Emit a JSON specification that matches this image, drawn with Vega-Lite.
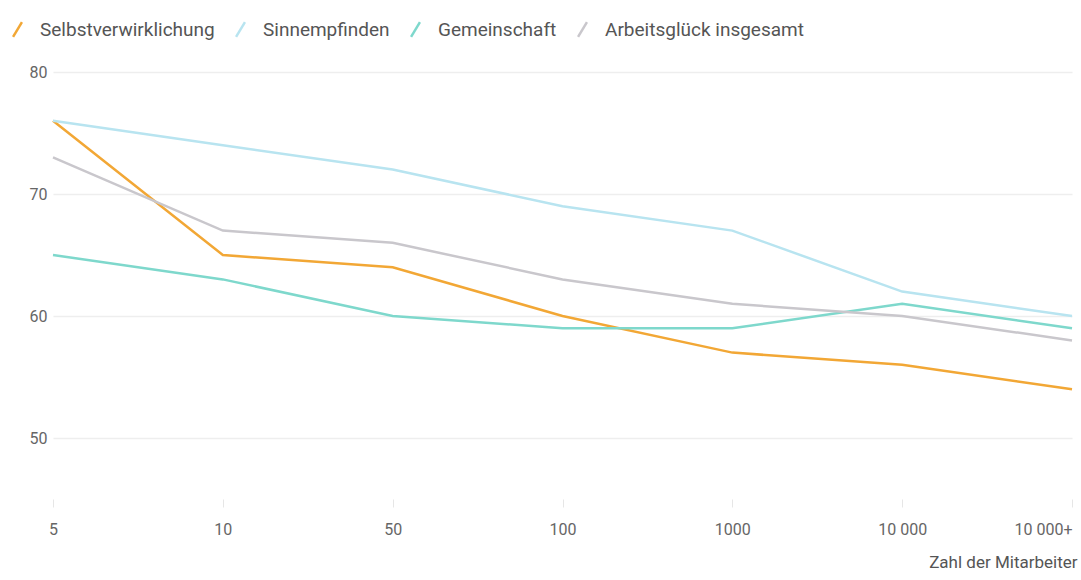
{
  "$schema": "https://vega.github.io/schema/vega-lite/v6.json",
  "width": 1019,
  "height": 427,
  "autosize": {"type": "none"},
  "padding": {"left": 53, "top": 72, "right": 9, "bottom": 81},
  "background": "white",
  "config": {
    "font": "Roboto",
    "view": {"stroke": null}
  },
  "data": {
    "values": [
      {"size": "5", "series": "Selbstverwirklichung", "value": 76},
      {"size": "10", "series": "Selbstverwirklichung", "value": 65},
      {"size": "50", "series": "Selbstverwirklichung", "value": 64},
      {"size": "100", "series": "Selbstverwirklichung", "value": 60},
      {"size": "1000", "series": "Selbstverwirklichung", "value": 57},
      {"size": "10 000", "series": "Selbstverwirklichung", "value": 56},
      {"size": "10 000+", "series": "Selbstverwirklichung", "value": 54},
      {"size": "5", "series": "Sinnempfinden", "value": 76},
      {"size": "10", "series": "Sinnempfinden", "value": 74},
      {"size": "50", "series": "Sinnempfinden", "value": 72},
      {"size": "100", "series": "Sinnempfinden", "value": 69},
      {"size": "1000", "series": "Sinnempfinden", "value": 67},
      {"size": "10 000", "series": "Sinnempfinden", "value": 62},
      {"size": "10 000+", "series": "Sinnempfinden", "value": 60},
      {"size": "5", "series": "Gemeinschaft", "value": 65},
      {"size": "10", "series": "Gemeinschaft", "value": 63},
      {"size": "50", "series": "Gemeinschaft", "value": 60},
      {"size": "100", "series": "Gemeinschaft", "value": 59},
      {"size": "1000", "series": "Gemeinschaft", "value": 59},
      {"size": "10 000", "series": "Gemeinschaft", "value": 61},
      {"size": "10 000+", "series": "Gemeinschaft", "value": 59},
      {"size": "5", "series": "Arbeitsglück insgesamt", "value": 73},
      {"size": "10", "series": "Arbeitsglück insgesamt", "value": 67},
      {"size": "50", "series": "Arbeitsglück insgesamt", "value": 66},
      {"size": "100", "series": "Arbeitsglück insgesamt", "value": 63},
      {"size": "1000", "series": "Arbeitsglück insgesamt", "value": 61},
      {"size": "10 000", "series": "Arbeitsglück insgesamt", "value": 60},
      {"size": "10 000+", "series": "Arbeitsglück insgesamt", "value": 58}
    ]
  },
  "mark": {"type": "line", "strokeWidth": 2.5},
  "encoding": {
    "x": {
      "field": "size",
      "type": "ordinal",
      "sort": ["5", "10", "50", "100", "1000", "10 000", "10 000+"],
      "scale": {"type": "point", "padding": 0},
      "axis": {
        "title": "Zahl der Mitarbeiter",
        "titleAnchor": "end",
        "titleFontSize": 17,
        "titleFontWeight": "normal",
        "titleColor": "#555",
        "titlePadding": 17,
        "titleX": 1024,
        "labelAngle": 0,
        "labelFontSize": 16,
        "labelColor": "#666",
        "labelPadding": 14,
        "labelAlign": {"condition": {"test": "datum.label == '10 000+'", "value": "right"}, "value": "center"},
        "labelDx": {"condition": {"test": "datum.label == '10 000+'", "value": 8}, "value": 0},
        "domain": false,
        "ticks": true,
        "tickColor": "#e6e6e6",
        "tickSize": 8,
        "grid": false
      }
    },
    "y": {
      "field": "value",
      "type": "quantitative",
      "scale": {"domain": [45, 80], "nice": false, "zero": false},
      "axis": {
        "title": null,
        "values": [50, 60, 70, 80],
        "labelFontSize": 16,
        "labelColor": "#666",
        "labelPadding": 6,
        "domain": false,
        "ticks": false,
        "grid": true,
        "gridColor": "#eeeeee",
        "gridWidth": 1.5
      }
    },
    "color": {
      "field": "series",
      "type": "nominal",
      "sort": ["Selbstverwirklichung", "Sinnempfinden", "Gemeinschaft", "Arbeitsglück insgesamt"],
      "scale": {
        "domain": ["Selbstverwirklichung", "Sinnempfinden", "Gemeinschaft", "Arbeitsglück insgesamt"],
        "range": ["#f2a735", "#b8e4f0", "#7ed8cc", "#c9c7cc"]
      },
      "legend": {
        "title": null,
        "orient": "none",
        "direction": "horizontal",
        "legendX": -45,
        "legendY": -52,
        "symbolType": "M-0.6,1L0.6,-1",
        "symbolSize": 220,
        "symbolStrokeWidth": 2.5,
        "labelFontSize": 19,
        "labelLimit": 400,
        "labelColor": "#555",
        "columnPadding": 16,
        "labelOffset": 13
      }
    },
    "order": {"field": "series"}
  }
}
